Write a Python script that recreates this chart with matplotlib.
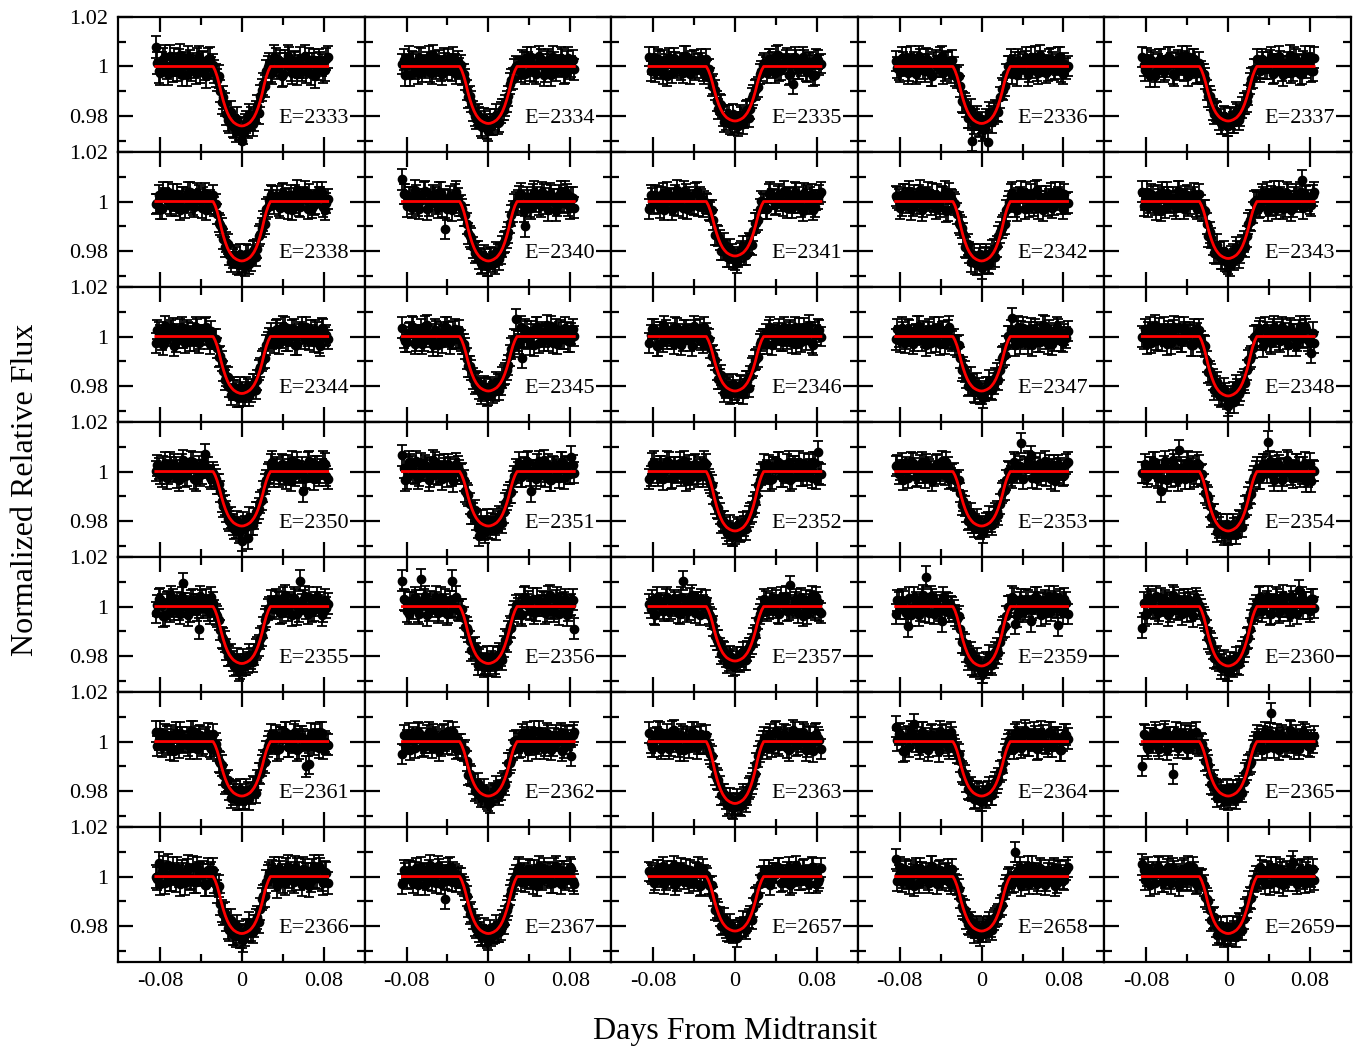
import numpy as np
import matplotlib
matplotlib.use("Agg")
import matplotlib.pyplot as plt
from matplotlib.ticker import FixedLocator, FuncFormatter

plt.rcParams['font.family'] = ['Liberation Serif', 'DejaVu Serif']
plt.rcParams['axes.unicode_minus'] = False

# epochs shown in each panel (row by row)
epochs = [2333, 2334, 2335, 2336, 2337,
          2338, 2340, 2341, 2342, 2343,
          2344, 2345, 2346, 2347, 2348,
          2350, 2351, 2352, 2353, 2354,
          2355, 2356, 2357, 2359, 2360,
          2361, 2362, 2363, 2364, 2365,
          2366, 2367, 2657, 2658, 2659]

# model transit depth (fraction) for each epoch
depths = [0.024, 0.023, 0.022, 0.023, 0.022,
          0.024, 0.024, 0.022, 0.024, 0.023,
          0.023, 0.022, 0.022, 0.022, 0.024,
          0.022, 0.022, 0.024, 0.022, 0.024,
          0.023, 0.023, 0.022, 0.024, 0.024,
          0.022, 0.022, 0.025, 0.022, 0.022,
          0.023, 0.023, 0.022, 0.022, 0.023]

# typical photometric error per epoch, units of 1e-4
errs = [45, 42, 40, 42, 42,
        40, 42, 40, 42, 42,
        40, 42, 40, 42, 42,
        42, 42, 42, 40, 42,
        42, 42, 40, 42, 42,
        42, 40, 42, 42, 40,
        45, 40, 38, 40, 42]

# observation times of the two interleaved exposure sets, units of 1e-4 day
t_a = [-840, -810, -780, -750, -720, -690, -660, -630, -600, -570, -540, -510, -480, -450, -420, -390, -360, -330, -300,
       -270, -240, -210, -180, -150, -120, -90, -60, -30, 0, 30, 60, 90, 120, 150, 180, 210, 240, 270,
       300, 330, 360, 390, 420, 450, 480, 510, 540, 570, 600, 630, 660, 690, 720, 750, 780, 810, 840]
t_b = [-825, -795, -765, -735, -705, -675, -645, -615, -585, -555, -525, -495, -465, -435, -405, -375, -345, -315, -285,
       -255, -225, -195, -165, -135, -105, -75, -45, -15, 15, 45, 75, 105, 135, 165, 195, 225, 255,
       285, 315, 345, 375, 405, 435, 465, 495, 525, 555, 585, 615, 645, 675, 705, 735, 765, 795, 825]

# limb-darkened model outline: times (1e-4 day) and fraction of full depth
model_t = [-840, -280, -260, -240, -220, -200, -180, -160, -140, -120, -100, -80, -50, -20, 0,
           20, 50, 80, 100, 120, 140, 160, 180, 200, 220, 240, 260, 280, 840]
model_shape = [0, 0, 0.07, 0.17, 0.30, 0.45, 0.58, 0.69, 0.78, 0.85, 0.90, 0.94, 0.975, 0.996, 1.0,
               0.996, 0.975, 0.94, 0.90, 0.85, 0.78, 0.69, 0.58, 0.45, 0.30, 0.17, 0.07, 0, 0]

# relative flux minus one, units of 1e-4 (set a at t_a)
f2333 = [80, -20, 12, 40, -30, 5, 28, -15, 45, 0, -35, 22, 10, -25, 38, 15, -10, 30, -5,
         -20, -55, -100, -125, -190, -225, -240, -260, -250, -300, -235, -245, -210, -215, -160, -120, -70, -20, 10,
         -25, 30, 8, -38, 20, 42, -12, 15, -30, 35, 0, -20, 28, 10, -40, 25, 5, -15, 38]
f2334 = [10, -35, 40, 20, -10, -28, 32, 5, 18, -22, 45, -8, 25, -32, 12, 30, -18, 8, 22,
         5, -30, -95, -120, -180, -210, -205, -245, -220, -260, -235, -215, -230, -185, -175, -140, -70, -50, 0,
         -10, 25, -30, 15, 38, -20, 2, 30, -35, 20, 10, 40, -15, 5, 28, -25, 35, 0, -12]
f2335 = [40, 8, -22, 30, -12, 25, -38, 18, 35, -5, 15, -28, 42, 0, 22, -15, 10, 32, -30,
         -15, -45, -70, -140, -150, -200, -215, -195, -235, -225, -240, -205, -210, -175, -170, -115, -90, -30, 5,
         0, 30, 18, -25, 45, -15, 10, 35, -32, -72, 25, -10, 38, -20, 15, 5, -35, 28, 12]
f2336 = [22, -12, 35, 5, -28, 40, 15, -20, 28, -8, 32, 10, -38, 25, 0, 42, -15, 18, -25,
         -5, -45, -80, -145, -160, -205, -300, -215, -240, -225, -250, -305, -200, -190, -180, -125, -95, -30, 0,
         -30, 15, 28, -8, 20, -35, 38, 10, -15, 45, 5, -25, 30, 18, -10, 35, -20, 12, 2]
f2337 = [38, -15, 5, 25, -40, 10, 28, -20, 0, 35, -30, 15, -12, 42, 20, -38, 8, 30, -25,
         -20, -30, -95, -120, -175, -180, -215, -230, -205, -240, -210, -225, -195, -200, -150, -140, -70, -45, -10,
         -5, 30, -10, 15, 38, -25, 10, 22, -35, 0, 45, -15, 28, 5, -30, 40, 12, -20, 35]
f2338 = [-10, 25, -30, 15, 38, -20, 2, 30, -35, 20, 10, 40, -15, 5, 28, -25, 35, 0, -12,
         -20, -50, -95, -150, -165, -215, -230, -225, -255, -245, -260, -215, -240, -195, -190, -130, -80, -30, 5,
         22, 8, -18, 30, 12, -32, 25, -8, 45, -22, 18, 5, 32, -28, -10, 20, 40, -35, 10]
f2340 = [90, 30, 18, -25, 45, -15, 10, 35, -32, 8, 25, -10, 38, -20, -110, 5, -35, 28, 12,
         -15, -55, -90, -140, -185, -200, -230, -245, -235, -260, -230, -250, -215, -210, -165, -145, -85, -40, -5,
         22, -12, -100, 5, -28, 40, 15, -20, 28, -8, 32, 10, -38, 25, 0, 42, -15, 18, -25]
f2341 = [-30, 15, 28, -8, 20, -35, 38, 10, -15, 45, 5, -25, 30, 18, -10, 35, -20, 12, 2,
         -10, -40, -75, -135, -155, -195, -195, -225, -210, -235, -225, -200, -215, -180, -170, -120, -85, -30, -5,
         -30, 32, 10, -15, 22, 0, 42, -28, 15, -5, 35, 18, -38, 25, -12, 30, -22, 8, 40]
f2342 = [22, 8, -18, 30, 12, -32, 25, -8, 45, -22, 18, 5, 32, -28, -10, 20, 40, -35, 10,
         -5, -50, -95, -130, -185, -205, -215, -250, -230, -270, -225, -245, -230, -195, -180, -125, -95, -35, 0,
         35, -20, 12, 40, -30, 5, 28, -15, 45, 0, -35, 22, 10, -25, 38, 15, -10, 30, -5]
f2343 = [40, 8, -22, 30, -12, 25, -38, 18, 35, -5, 15, -28, 42, 0, 22, -15, 10, 32, -30,
         -15, -35, -90, -125, -175, -210, -205, -230, -240, -250, -220, -235, -200, -205, -160, -140, -75, -45, 5,
         -25, 30, 8, -38, 20, 42, -12, 15, -30, 35, 0, -20, 28, 10, 85, 25, 5, -15, 38]
f2344 = [-25, 18, -15, 42, 0, 25, -38, 10, 32, -8, 28, -20, 15, 40, -28, 5, 35, -12, 22,
         -10, -45, -80, -140, -160, -205, -215, -215, -245, -225, -240, -210, -225, -190, -175, -125, -90, -35, -5,
         -10, 25, -30, 15, 38, -20, 2, 30, -35, 20, 10, 40, -15, 5, 28, -25, 35, 0, -12]
f2345 = [35, -20, 12, 40, -30, 5, 28, -15, 45, 0, -35, 22, 10, -25, 38, 15, -10, 30, -5,
         -15, -30, -90, -120, -170, -180, -210, -220, -210, -235, -215, -220, -195, -195, -155, -135, -75, -40, 70,
         -30, -85, 28, -8, 20, -35, 38, 10, -15, 45, 5, -25, 30, 18, -10, 35, -20, 12, 2]
f2346 = [-25, 30, 8, -38, 20, 42, -12, 15, -30, 35, 0, -20, 28, 10, -40, 25, 5, -15, 38,
         -5, -45, -75, -135, -170, -190, -210, -205, -230, -215, -230, -200, -210, -180, -160, -120, -90, -30, -10,
         12, 28, -35, 5, 15, -20, 38, -10, 25, 8, -32, 35, 10, -15, 45, -25, 18, 30, 0]
f2347 = [-12, 0, 35, -25, 28, 5, -15, 40, 10, 20, -35, 30, 2, -20, 38, 15, -30, 25, -10,
         -10, -40, -85, -125, -165, -195, -195, -225, -210, -230, -220, -205, -210, -190, -150, -135, -80, -40, 0,
         75, -35, 40, 20, -10, -28, 32, 5, 18, -22, 45, -8, 25, -32, 12, 30, -18, 8, 22]
f2348 = [0, 30, 18, -25, 45, -15, 10, 35, -32, 8, 25, -10, 38, -20, 15, 5, -35, 28, 12,
         -20, -35, -100, -140, -175, -200, -235, -240, -230, -280, -240, -265, -215, -220, -175, -135, -90, -45, 5,
         22, -12, 35, 5, -28, 40, 15, -20, 28, -8, 32, 10, -38, 25, 0, 42, -15, -65, -25]
f2350 = [2, 12, -20, 35, -10, 18, 30, -25, 5, 45, -15, 10, 38, -35, 20, -8, 70, 15, -30,
         -15, -50, -80, -140, -160, -200, -215, -225, -245, -280, -220, -270, -215, -190, -165, -125, -80, -35, -5,
         40, 8, -22, 30, -12, 25, -38, 18, 35, -5, -80, -28, 42, 0, 22, -15, 10, 32, -30]
f2351 = [65, -35, 40, 20, -10, -28, 32, 5, 18, -22, 45, -8, 25, -32, 12, 30, -18, 8, 22,
         -10, -35, -90, -130, -170, -195, -260, -220, -245, -225, -210, -215, -200, -190, -165, -115, -85, -40, 10,
         35, -20, 12, 40, -80, 5, 28, -15, 45, 0, -35, 22, 10, -25, 38, 15, -10, 60, -5]
f2352 = [-30, 32, 10, -15, 22, 0, 42, -28, 15, -5, 35, 18, -38, 25, -12, 30, -22, 8, 40,
         -10, -45, -90, -145, -170, -200, -225, -240, -260, -250, -235, -240, -220, -200, -170, -140, -95, -35, -5,
         -10, 25, -30, 15, 38, -20, 2, 30, -35, 20, 10, 40, -15, 5, 28, -25, 35, 80, -12]
f2353 = [22, -12, 35, 5, -28, 40, 15, -20, 28, -8, 32, 10, -38, 25, 0, 42, -15, 18, -25,
         -5, -40, -85, -120, -165, -190, -210, -210, -230, -220, -225, -205, -205, -185, -160, -130, -80, -35, 0,
         -25, 30, 8, 115, 20, 42, 65, 15, -30, 35, 0, -20, 28, 10, -40, 25, 5, -15, 38]
f2354 = [-5, 30, -10, 15, 38, -25, -80, 22, -35, 0, 45, -15, 85, 5, -30, 40, 12, -20, 35,
         -15, -50, -95, -140, -175, -210, -225, -240, -245, -255, -250, -230, -225, -200, -175, -135, -85, -35, 0,
         -30, 15, 28, 120, 20, -35, 38, 10, -15, 45, 5, -25, 30, 18, -10, 35, -20, -40, 2]
f2355 = [-25, 30, 8, -38, 20, 42, -12, 15, -30, 95, 0, -20, 28, 10, -90, 25, 5, -15, 38,
         -15, -40, -95, -130, -175, -200, -220, -235, -260, -240, -235, -225, -210, -195, -165, -130, -85, -40, -5,
         0, 30, 18, -25, 45, -15, 10, 35, -32, 105, 25, -10, 38, -20, 15, 5, -35, 28, 12]
f2356 = [105, 25, -30, 15, 38, -20, 110, 30, -35, 20, 10, 40, -15, 5, 28, -25, 105, 0, -12,
         -10, -45, -85, -140, -170, -190, -215, -235, -230, -240, -220, -230, -205, -200, -160, -140, -80, -35, 5,
         10, -35, 40, 20, -10, -28, 32, 5, 18, -22, 45, -8, 25, -32, 12, 30, -18, 8, -90]
f2357 = [12, 28, -35, 5, 15, -20, 38, -10, 25, 8, -32, 105, 10, -15, 45, -25, 18, 30, 0,
         -5, -40, -80, -135, -165, -180, -205, -220, -210, -235, -220, -205, -215, -180, -165, -125, -85, -30, 0,
         22, -12, 35, 5, -28, 40, 15, -20, 85, -8, 32, 10, -38, 25, 0, 42, -15, 18, -25]
f2359 = [-30, 15, 28, -8, -80, -35, 38, 10, -15, 45, 120, -25, 30, 18, -10, -60, -20, 12, 2,
         -15, -50, -90, -145, -180, -200, -235, -240, -230, -265, -245, -235, -225, -205, -170, -145, -85, -40, 0,
         40, -70, -22, 30, -12, 25, -60, 18, 35, -5, 15, -28, 42, 0, 22, -75, 10, 32, -30]
f2360 = [-85, -35, 40, 20, -10, -28, 32, 5, 18, -22, 45, -8, 25, -32, 12, 30, -18, 8, 22,
         -10, -45, -95, -140, -170, -210, -220, -235, -250, -260, -240, -230, -230, -200, -180, -130, -90, -30, 5,
         35, -20, 12, 40, -30, 5, 28, -15, 45, 0, -35, 22, 10, 65, 38, 15, -10, 30, -5]
f2361 = [40, 8, -22, 30, -12, 25, -38, 18, 35, -5, 15, -28, 42, 0, 22, -15, 10, 32, -30,
         -15, -35, -85, -135, -160, -195, -215, -200, -235, -215, -230, -205, -210, -185, -155, -130, -75, -40, 0,
         -10, 25, -30, 15, 38, -20, 2, 30, -35, 20, 10, -100, -90, 5, 28, -25, 35, 0, -12]
f2362 = [-50, -12, 35, 5, -28, 40, 15, -20, 28, -8, 32, 10, -38, 25, 0, 42, -15, 18, -25,
         -10, -40, -80, -130, -170, -190, -210, -215, -225, -240, -215, -210, -200, -195, -160, -125, -85, -35, 5,
         -25, 30, 8, -38, 20, 42, -12, 15, -30, 35, 0, -20, 28, 10, -40, 25, 5, -60, 38]
f2363 = [35, -20, 12, 40, -30, 5, 28, -15, 45, 0, -35, 22, 10, -25, 38, 15, -10, 30, -5,
         -10, -50, -100, -150, -180, -215, -230, -250, -265, -255, -250, -260, -225, -215, -180, -150, -90, -40, 0,
         2, 12, -20, 35, -10, 18, 30, -25, 5, 45, -15, 10, 38, -35, 20, -8, 28, 15, -30]
f2364 = [60, 30, 8, -38, 20, 42, 70, 15, -30, 35, 0, -20, 28, 10, -40, 25, 5, -15, 38,
         -15, -45, -80, -130, -160, -195, -200, -225, -210, -240, -220, -200, -215, -180, -165, -120, -85, -30, 5,
         0, 30, 18, -25, 45, -15, 10, 35, -32, 8, 25, -10, 38, -20, 15, 5, -35, 28, 12]
f2365 = [-100, 25, -30, 15, 38, -20, 2, 30, -35, 20, -130, 40, -15, 5, 28, -25, 35, 0, -12,
         -5, -35, -75, -135, -175, -190, -205, -220, -215, -235, -210, -215, -195, -190, -165, -115, -90, -35, 0,
         10, -35, 40, 20, 115, -28, 32, 5, 18, -22, 45, -8, 25, -32, 12, 30, -18, 8, 22]
f2366 = [0, 55, 18, -25, 45, -15, 10, 35, -32, 8, 25, -10, 38, -20, 15, 5, -35, 28, 12,
         -20, -60, -110, -150, -175, -215, -230, -240, -225, -245, -235, -220, -215, -200, -165, -130, -80, -20, 15,
         22, -12, 35, 5, -28, 40, 15, -20, 28, -8, 32, 10, -38, 25, 0, 42, -15, 18, -25]
f2367 = [-30, 15, 28, -8, 20, -35, 38, 10, -15, 45, 5, -25, 30, 18, -90, 35, -20, 12, 2,
         -5, -40, -80, -150, -170, -210, -225, -235, -240, -255, -240, -230, -225, -215, -190, -135, -75, -30, 5,
         40, 8, -22, 30, -12, 25, -38, 18, 35, -5, 15, -28, 42, 0, 22, -15, 10, 32, -30]
f2657 = [22, 8, -18, 30, 12, -32, 25, -8, 45, -22, 18, 5, 32, -28, -10, 20, 40, -35, 10,
         -5, -40, -80, -130, -160, -195, -210, -225, -215, -220, -215, -205, -200, -180, -155, -125, -80, -30, 5,
         -5, 30, -10, 15, 38, -25, 10, 22, -35, 0, 45, -15, 28, 5, -30, 40, 12, -20, 35]
f2658 = [70, 8, -22, 30, -12, 25, -38, 18, 35, -5, 15, -28, 42, 0, 22, -15, 10, 32, -30,
         -10, -35, -85, -130, -170, -195, -205, -210, -220, -225, -210, -200, -205, -175, -160, -125, -80, -35, 0,
         -25, 100, 8, -38, 20, 42, -12, 15, -30, 35, 0, -20, 28, 10, -40, 25, 5, -15, 38]
f2659 = [50, -12, 35, 5, -28, 40, 15, -20, 28, -8, 32, 10, -38, 25, 0, 42, -15, 18, -25,
         -15, -35, -90, -135, -170, -200, -225, -230, -235, -240, -230, -220, -205, -195, -170, -125, -85, -40, 0,
         -10, 25, -30, 15, 38, -20, 2, 30, -35, 20, 10, 60, -15, 5, 28, -25, 35, 0, -12]

# relative flux minus one, units of 1e-4 (set b at t_b)
g2333 = [15, -28, 30, -5, 42, -18, 8, 25, -35, 12, 38, -12, 0, 28, -22, 18, -40, 32, 5,
         -36, -40, -145, -153, -214, -184, -242, -210, -252, -268, -225, -197, -234, -184, -188, -95, -80, -1,
         -18, 40, -5, 22, -32, 10, 35, -25, 18, 0, -15, 42, 8, -30, 25, -8, 15, -20, 30]
g2334 = [28, 5, -35, 18, 10, 35, -22, -5, 40, -28, 20, 2, -18, 32, -12, 8, 38, -30, -8,
         -31, -53, -124, -142, -198, -194, -239, -209, -250, -215, -234, -194, -224, -173, -157, -119, -53, -11,
         -5, -22, 18, 38, -15, 5, -30, 42, 10, -20, 28, -35, 15, 0, 35, -28, 22, -10, 25]
g2335 = [-18, 40, -5, 22, -32, 10, 35, -25, 18, 0, -15, 42, 8, -30, 25, -8, 15, -20, 30,
         -9, -79, -96, -170, -156, -226, -196, -234, -192, -230, -194, -233, -181, -206, -127, -96, -84, -19,
         15, -28, 30, -5, 42, -18, 8, 25, -35, 12, 38, -12, 0, 28, -22, 18, -40, 32, 5]
g2336 = [-5, -22, 18, 38, -15, 5, -30, 42, 10, -20, 28, -35, 15, 0, 35, -28, 22, -10, 25,
         -35, -37, -140, -147, -206, -175, -232, -200, -242, -258, -215, -187, -225, -176, -182, -90, -77, 0,
         28, 5, -35, 18, 10, 35, -22, -5, 40, -28, 20, 2, -18, 32, -12, 8, 38, -30, -8]
g2337 = [5, 32, -40, 18, -22, 28, 0, -12, 38, 12, -35, 25, 8, -18, 42, -5, 30, -28, 15,
         -30, -50, -120, -135, -190, -185, -230, -200, -240, -205, -225, -185, -215, -165, -150, -115, -50, -10,
         30, -20, 15, -8, 25, -30, 8, 42, -15, 0, 18, -25, 35, 10, -32, 22, -5, 40, -18]
g2338 = [-8, -30, 38, 8, -12, 32, -18, 2, 20, -28, 40, -5, -22, 35, 10, 18, -35, 5, 28,
         -11, -85, -105, -183, -172, -244, -215, -253, -212, -250, -213, -252, -199, -222, -140, -105, -90, -21,
         25, -10, 22, -28, 35, 0, 15, -35, 28, -20, 10, 42, -30, 5, -15, 38, 18, -22, -5]
g2340 = [30, -20, 15, -8, 25, -30, 8, 42, -15, 0, 18, -25, 35, 10, -32, 22, -5, 40, -18,
         -32, -56, -129, -148, -206, -203, -249, -219, -260, -225, -244, -204, -233, -181, -163, -124, -56, -12,
         5, 32, -40, 18, -22, 28, 0, -12, 38, 12, -35, 25, 8, -18, 42, -5, 30, -28, 15]
g2341 = [25, -10, 22, -28, 35, 0, 15, -35, 28, -20, 10, 42, -30, 5, -15, 38, 18, -22, -5,
         -34, -34, -136, -140, -198, -166, -223, -191, -232, -248, -206, -178, -216, -168, -175, -86, -74, 1,
         -8, -30, 38, 8, -12, 32, -18, 2, 20, -28, 40, -5, -22, 35, 10, 18, -35, 5, 28]
g2342 = [15, -28, 30, -5, 42, -18, 8, 25, -35, 12, 38, -12, 0, 28, -22, 18, -40, 32, 5,
         -11, -85, -105, -183, -172, -244, -215, -253, -212, -250, -213, -252, -199, -222, -140, -105, -90, -21,
         28, 5, -35, 18, 10, 35, -22, -5, 40, -28, 20, 2, -18, 32, -12, 8, 38, -30, -8]
g2343 = [-18, 40, -5, 22, -32, 10, 35, -25, 18, 0, -15, 42, 8, -30, 25, -8, 15, -20, 30,
         -35, -37, -140, -147, -206, -175, -232, -200, -242, -258, -215, -187, -225, -176, -182, -90, -77, 0,
         -5, -22, 18, 38, -15, 5, -30, 42, 10, -20, 28, -35, 15, 0, 35, -28, 22, -10, 25]
g2344 = [28, 5, -35, 18, 10, 35, -22, -5, 40, -28, 20, 2, -18, 32, -12, 8, 38, -30, -8,
         -10, -82, -100, -177, -164, -235, -205, -243, -202, -240, -203, -242, -190, -214, -134, -100, -87, -20,
         15, -28, 30, -5, 42, -18, 8, 25, -35, 12, 38, -12, 0, 28, -22, 18, -40, 32, 5]
g2345 = [-5, -22, 18, 38, -15, 5, -30, 42, 10, -20, 28, -35, 15, 0, 35, -28, 22, -10, 25,
         -30, -50, -120, -135, -190, -185, -230, -200, -240, -205, -225, -185, -215, -165, -150, -115, -50, -10,
         -18, 40, -5, 22, -32, 10, 35, -25, 18, 0, -15, 42, 8, -30, 25, -8, 15, -20, 30]
g2346 = [5, 32, -40, 18, -22, 28, 0, -12, 38, 12, -35, 25, 8, -18, 42, -5, 30, -28, 15,
         -9, -79, -96, -170, -156, -226, -196, -234, -192, -230, -194, -233, -181, -206, -127, -96, -84, -19,
         -8, -30, 38, 8, -12, 32, -18, 2, 20, -28, 40, -5, -22, 35, 10, 18, -35, 5, 28]
g2347 = [30, -20, 15, -8, 25, -30, 8, 42, -15, 0, 18, -25, 35, 10, -32, 22, -5, 40, -18,
         -34, -34, -136, -140, -198, -166, -223, -191, -232, -248, -206, -178, -216, -168, -175, -86, -74, 1,
         25, -10, 22, -28, 35, 0, 15, -35, 28, -20, 10, 42, -30, 5, -15, 38, 18, -22, -5]
g2348 = [-8, -30, 38, 8, -12, 32, -18, 2, 20, -28, 40, -5, -22, 35, 10, 18, -35, 5, 28,
         -36, -40, -145, -153, -214, -184, -242, -210, -252, -268, -225, -197, -234, -184, -188, -95, -80, -1,
         5, 32, -40, 18, -22, 28, 0, -12, 38, 12, -35, 25, 8, -18, 42, -5, 30, -28, 15]
g2350 = [25, -10, 22, -28, 35, 0, 15, -35, 28, -20, 10, 42, -30, 5, -15, 38, 18, -22, -5,
         -30, -50, -120, -135, -190, -185, -230, -200, -240, -205, -225, -185, -215, -165, -150, -115, -50, -10,
         30, -20, 15, -8, 25, -30, 8, 42, -15, 0, 18, -25, 35, 10, -32, 22, -5, 40, -18]
g2351 = [15, -28, 30, -5, 42, -18, 8, 25, -35, 12, 38, -12, 0, 28, -22, 18, -40, 32, 5,
         -9, -79, -96, -170, -156, -226, -196, -234, -192, -230, -194, -233, -181, -206, -127, -96, -84, -19,
         -5, -22, 18, 38, -15, 5, -30, 42, 10, -20, 28, -35, 15, 0, 35, -28, 22, -10, 25]
g2352 = [-18, 40, -5, 22, -32, 10, 35, -25, 18, 0, -15, 42, 8, -30, 25, -8, 15, -20, 30,
         -32, -56, -129, -148, -206, -203, -249, -219, -260, -225, -244, -204, -233, -181, -163, -124, -56, -12,
         28, 5, -35, 18, 10, 35, -22, -5, 40, -28, 20, 2, -18, 32, -12, 8, 38, -30, -8]
g2353 = [28, 5, -35, 18, 10, 35, -22, -5, 40, -28, 20, 2, -18, 32, -12, 8, 38, -30, -8,
         -34, -34, -136, -140, -198, -166, -223, -191, -232, -248, -206, -178, -216, -168, -175, -86, -74, 1,
         -18, 40, -5, 22, -32, 10, 35, -25, 18, 0, -15, 42, 8, -30, 25, -8, 15, -20, 30]
g2354 = [-5, -22, 18, 38, -15, 5, -30, 42, 10, -20, 28, -35, 15, 0, 35, -28, 22, -10, 25,
         -11, -85, -105, -183, -172, -244, -215, -253, -212, -250, -213, -252, -199, -222, -140, -105, -90, -21,
         15, -28, 30, -5, 42, -18, 8, 25, -35, 12, 38, -12, 0, 28, -22, 18, -40, 32, 5]
g2355 = [5, 32, -40, 18, -22, 28, 0, -12, 38, 12, -35, 25, 8, -18, 42, -5, 30, -28, 15,
         -31, -53, -124, -142, -198, -194, -239, -209, -250, -215, -234, -194, -224, -173, -157, -119, -53, -11,
         25, -10, 22, -28, 35, 0, 15, -35, 28, -20, 10, 42, -30, 5, -15, 38, 18, -22, -5]
g2356 = [30, -20, 15, -8, 25, -30, 8, 42, -15, 0, 18, -25, 35, 10, -32, 22, -5, 40, -18,
         -10, -82, -100, -177, -164, -235, -205, -243, -202, -240, -203, -242, -190, -214, -134, -100, -87, -20,
         -8, -30, 38, 8, -12, 32, -18, 2, 20, -28, 40, -5, -22, 35, 10, 18, -35, 5, 28]
g2357 = [-8, -30, 38, 8, -12, 32, -18, 2, 20, -28, 40, -5, -22, 35, 10, 18, -35, 5, 28,
         -30, -50, -120, -135, -190, -185, -230, -200, -240, -205, -225, -185, -215, -165, -150, -115, -50, -10,
         30, -20, 15, -8, 25, -30, 8, 42, -15, 0, 18, -25, 35, 10, -32, 22, -5, 40, -18]
g2359 = [25, -10, 22, -28, 35, 0, 15, -35, 28, -20, 10, 42, -30, 5, -15, 38, 18, -22, -5,
         -36, -40, -145, -153, -214, -184, -242, -210, -252, -268, -225, -197, -234, -184, -188, -95, -80, -1,
         5, 32, -40, 18, -22, 28, 0, -12, 38, 12, -35, 25, 8, -18, 42, -5, 30, -28, 15]
g2360 = [15, -28, 30, -5, 42, -18, 8, 25, -35, 12, 38, -12, 0, 28, -22, 18, -40, 32, 5,
         -32, -56, -129, -148, -206, -203, -249, -219, -260, -225, -244, -204, -233, -181, -163, -124, -56, -12,
         -18, 40, -5, 22, -32, 10, 35, -25, 18, 0, -15, 42, 8, -30, 25, -8, 15, -20, 30]
g2361 = [-18, 40, -5, 22, -32, 10, 35, -25, 18, 0, -15, 42, 8, -30, 25, -8, 15, -20, 30,
         -9, -79, -96, -170, -156, -226, -196, -234, -192, -230, -194, -233, -181, -206, -127, -96, -84, -19,
         28, 5, -35, 18, 10, 35, -22, -5, 40, -28, 20, 2, -18, 32, -12, 8, 38, -30, -8]
g2362 = [28, 5, -35, 18, 10, 35, -22, -5, 40, -28, 20, 2, -18, 32, -12, 8, 38, -30, -8,
         -34, -34, -136, -140, -198, -166, -223, -191, -232, -248, -206, -178, -216, -168, -175, -86, -74, 1,
         -5, -22, 18, 38, -15, 5, -30, 42, 10, -20, 28, -35, 15, 0, 35, -28, 22, -10, 25]
g2363 = [-5, -22, 18, 38, -15, 5, -30, 42, 10, -20, 28, -35, 15, 0, 35, -28, 22, -10, 25,
         -34, -59, -134, -155, -214, -212, -258, -229, -270, -235, -254, -213, -242, -189, -170, -129, -59, -14,
         15, -28, 30, -5, 42, -18, 8, 25, -35, 12, 38, -12, 0, 28, -22, 18, -40, 32, 5]
g2364 = [5, 32, -40, 18, -22, 28, 0, -12, 38, 12, -35, 25, 8, -18, 42, -5, 30, -28, 15,
         -30, -50, -120, -135, -190, -185, -230, -200, -240, -205, -225, -185, -215, -165, -150, -115, -50, -10,
         -8, -30, 38, 8, -12, 32, -18, 2, 20, -28, 40, -5, -22, 35, 10, 18, -35, 5, 28]
g2365 = [30, -20, 15, -8, 25, -30, 8, 42, -15, 0, 18, -25, 35, 10, -32, 22, -5, 40, -18,
         -9, -79, -96, -170, -156, -226, -196, -234, -192, -230, -194, -233, -181, -206, -127, -96, -84, -19,
         25, -10, 22, -28, 35, 0, 15, -35, 28, -20, 10, 42, -30, 5, -15, 38, 18, -22, -5]
g2366 = [-8, -30, 38, 8, -12, 32, -18, 2, 20, -28, 40, -5, -22, 35, 10, 18, -35, 5, 28,
         -35, -37, -140, -147, -206, -175, -232, -200, -242, -258, -215, -187, -225, -176, -182, -90, -77, 0,
         5, 32, -40, 18, -22, 28, 0, -12, 38, 12, -35, 25, 8, -18, 42, -5, 30, -28, 15]
g2367 = [25, -10, 22, -28, 35, 0, 15, -35, 28, -20, 10, 42, -30, 5, -15, 38, 18, -22, -5,
         -31, -53, -124, -142, -198, -194, -239, -209, -250, -215, -234, -194, -224, -173, -157, -119, -53, -11,
         30, -20, 15, -8, 25, -30, 8, 42, -15, 0, 18, -25, 35, 10, -32, 22, -5, 40, -18]
g2657 = [15, -28, 30, -5, 42, -18, 8, 25, -35, 12, 38, -12, 0, 28, -22, 18, -40, 32, 5,
         -34, -34, -136, -140, -198, -166, -223, -191, -232, -248, -206, -178, -216, -168, -175, -86, -74, 1,
         28, 5, -35, 18, 10, 35, -22, -5, 40, -28, 20, 2, -18, 32, -12, 8, 38, -30, -8]
g2658 = [-18, 40, -5, 22, -32, 10, 35, -25, 18, 0, -15, 42, 8, -30, 25, -8, 15, -20, 30,
         -30, -50, -120, -135, -190, -185, -230, -200, -240, -205, -225, -185, -215, -165, -150, -115, -50, -10,
         -5, -22, 18, 38, -15, 5, -30, 42, 10, -20, 28, -35, 15, 0, 35, -28, 22, -10, 25]
g2659 = [28, 5, -35, 18, 10, 35, -22, -5, 40, -28, 20, 2, -18, 32, -12, 8, 38, -30, -8,
         -10, -82, -100, -177, -164, -235, -205, -243, -202, -240, -203, -242, -190, -214, -134, -100, -87, -20,
         -18, 40, -5, 22, -32, 10, 35, -25, 18, 0, -15, 42, 8, -30, 25, -8, 15, -20, 30]

fluxes_a = [f2333, f2334, f2335, f2336, f2337,
            f2338, f2340, f2341, f2342, f2343,
            f2344, f2345, f2346, f2347, f2348,
            f2350, f2351, f2352, f2353, f2354,
            f2355, f2356, f2357, f2359, f2360,
            f2361, f2362, f2363, f2364, f2365,
            f2366, f2367, f2657, f2658, f2659]
fluxes_b = [g2333, g2334, g2335, g2336, g2337,
            g2338, g2340, g2341, g2342, g2343,
            g2344, g2345, g2346, g2347, g2348,
            g2350, g2351, g2352, g2353, g2354,
            g2355, g2356, g2357, g2359, g2360,
            g2361, g2362, g2363, g2364, g2365,
            g2366, g2367, g2657, g2658, g2659]

nrows, ncols = 7, 5

fig = plt.figure(figsize=(13.59, 10.53), dpi=100)
gs = fig.add_gridspec(nrows, ncols, left=0.0868, right=0.9941, top=0.9839, bottom=0.0864,
                      hspace=0, wspace=0)

t = np.concatenate([t_a, t_b]) / 1e4
tm = np.array(model_t) / 1e4
shape = np.array(model_shape)
fmt = FuncFormatter(lambda v, p: f"{v:g}")

for i, ep in enumerate(epochs):
    r, c = divmod(i, ncols)
    ax = fig.add_subplot(gs[r, c])
    flux = 1.0 + np.concatenate([fluxes_a[i], fluxes_b[i]]) / 1e4
    ax.errorbar(t, flux, yerr=errs[i] / 1e4, fmt='o', color='black', ms=6,
                elinewidth=1.3, capsize=3.6, capthick=1.3, zorder=2)
    ax.plot(tm, 1.0 - depths[i] * shape, color='red', lw=2, zorder=3)

    ax.set_xlim(-0.121, 0.12)
    ax.set_ylim(0.9655, 1.02)
    ax.xaxis.set_major_locator(FixedLocator([-0.08, 0, 0.08]))
    ax.xaxis.set_minor_locator(FixedLocator([-0.04, 0.04]))
    ax.yaxis.set_major_locator(FixedLocator([0.98, 1.0, 1.02]))
    ax.yaxis.set_minor_locator(FixedLocator([0.97, 0.99, 1.01]))
    ax.tick_params(which='both', direction='in', top=True, right=True, width=1.6)
    ax.tick_params(which='major', length=11, labelsize=16, pad=7)
    ax.tick_params(which='minor', length=6)
    ax.xaxis.set_major_formatter(fmt)
    ax.yaxis.set_major_formatter(fmt)
    if c != 0:
        ax.tick_params(labelleft=False)
    if r != nrows - 1:
        ax.tick_params(labelbottom=False)
    for sp in ax.spines.values():
        sp.set_linewidth(1.6)

    ax.text(0.935, 0.245, f"E={ep}", transform=ax.transAxes, ha='right', va='center',
            fontsize=16, zorder=4)

fig.text(0.541, 0.021, "Days From Midtransit", ha='center', va='center', fontsize=23)
fig.text(0.019, 0.535, "Normalized Relative Flux", ha='center', va='center',
         rotation=90, fontsize=23)

fig.savefig("out.png", dpi=100)
